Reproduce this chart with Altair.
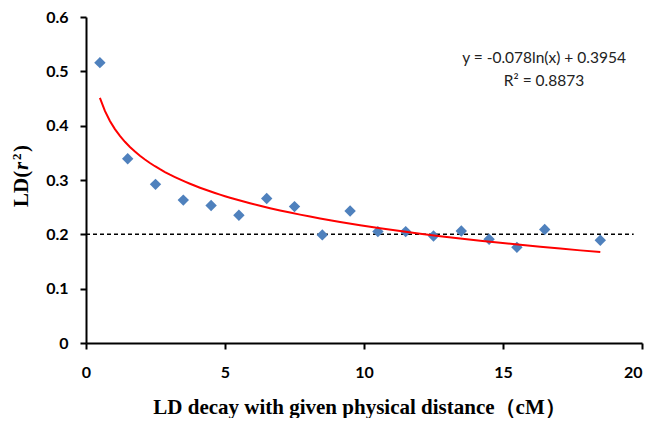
import altair as alt
import pandas as pd

# Data
distance = [0.5, 1.5, 2.5, 3.5, 4.5, 5.5, 6.5, 7.5, 8.5, 9.5,
            10.5, 11.5, 12.5, 13.5, 14.5, 15.5, 16.5, 18.5]
ld_r2 = [0.516, 0.339, 0.292, 0.263, 0.253, 0.235, 0.266, 0.251, 0.199, 0.243,
         0.205, 0.205, 0.197, 0.206, 0.191, 0.176, 0.209, 0.189]
threshold = [0.2]
threshold_extent = [0, 19.7]
x_ticks = [0, 5, 10, 15, 20]
y_ticks = [0, 0.1, 0.2, 0.3, 0.4, 0.5, 0.6]
annotation = ["y = -0.078ln(x) + 0.3954", "R\u00b2 = 0.8873"]
x_title = "LD decay with given physical distance\uff08cM\uff09"
y_title_parts = ["LD(", "r", "2", ")"]

df = pd.DataFrame({"x": distance, "y": ld_r2})
df_thr = pd.DataFrame({"y": threshold, "x0": [threshold_extent[0]], "x1": [threshold_extent[1]]})
one = pd.DataFrame({"k": [0]})

x_enc = alt.X("x:Q", scale=alt.Scale(domain=[0, 20], nice=False),
              axis=alt.Axis(values=x_ticks, title=x_title,
                            titleX=273, titleY=70, titleBaseline="alphabetic", titleAnchor="middle",
                            labelPadding=15, labelFlush=False,
                            labelAlign=alt.ExprRef(expr="datum.value == 20 ? 'right' : 'center'")))
y_enc = alt.Y("y:Q", scale=alt.Scale(domain=[0, 0.6], nice=False),
              axis=alt.Axis(values=y_ticks, format=".1~f", title="", labelPadding=12,
                            labelFlush=False))

rule = alt.Chart(df_thr).mark_rule(color="black", strokeWidth=1.5, strokeDash=[4, 3]).encode(
    x=alt.X("x0:Q"), x2="x1:Q", y=alt.Y("y:Q")
)

fit = alt.Chart(df).transform_regression(
    "x", "y", method="log", extent=[0.5, 18.5]
).mark_line(color="#FF0000", strokeWidth=2).encode(x=alt.X("x:Q"), y=alt.Y("y:Q"))

points = alt.Chart(df).mark_point(shape="diamond", filled=True, size=130,
                                  color="#4F81BD", opacity=1).encode(x=x_enc, y=y_enc)

text = alt.Chart(one).mark_text(
    font="Lato", fontSize=15.5, color="#222222", align="center", baseline="middle", lineHeight=23
).encode(x=alt.value(458), y=alt.value(41), text=alt.value(annotation))

# Rotated y-axis title built from pieces: bold "LD(", bold italic "r", superscript "2", ")"
yt_common = dict(font="Liberation Serif", fontWeight="bold", color="black", angle=270,
                 align="left", baseline="alphabetic")
yt1 = alt.Chart(one).mark_text(fontSize=21, **yt_common).encode(
    x=alt.value(-58), y=alt.value(190), text=alt.value(y_title_parts[0]))
yt2 = alt.Chart(one).mark_text(fontSize=21, fontStyle="italic", **yt_common).encode(
    x=alt.value(-58), y=alt.value(153), text=alt.value(y_title_parts[1]))
yt3 = alt.Chart(one).mark_text(fontSize=13, **yt_common).encode(
    x=alt.value(-65), y=alt.value(143), text=alt.value(y_title_parts[2]))
yt4 = alt.Chart(one).mark_text(fontSize=21, **yt_common).encode(
    x=alt.value(-58), y=alt.value(135), text=alt.value(y_title_parts[3]))

chart = alt.layer(rule, points, fit, text, yt1, yt2, yt3, yt4).properties(
    width=556, height=326,
    autosize=alt.AutoSizeParams(type="none"),
    padding={"left": 78, "top": 9, "right": 3, "bottom": 75},
).configure_view(stroke=None).configure_axis(
    grid=False, domainColor="black", domainWidth=2, tickColor="black", tickWidth=2, tickSize=6,
    labelFont="Lato", labelFontWeight="bold", labelFontSize=16, labelColor="black",
    titleFont="Liberation Serif", titleFontWeight="bold", titleFontSize=21, titleColor="black",
)

chart.save("out.html", embed_options={"renderer": "svg", "actions": False})
